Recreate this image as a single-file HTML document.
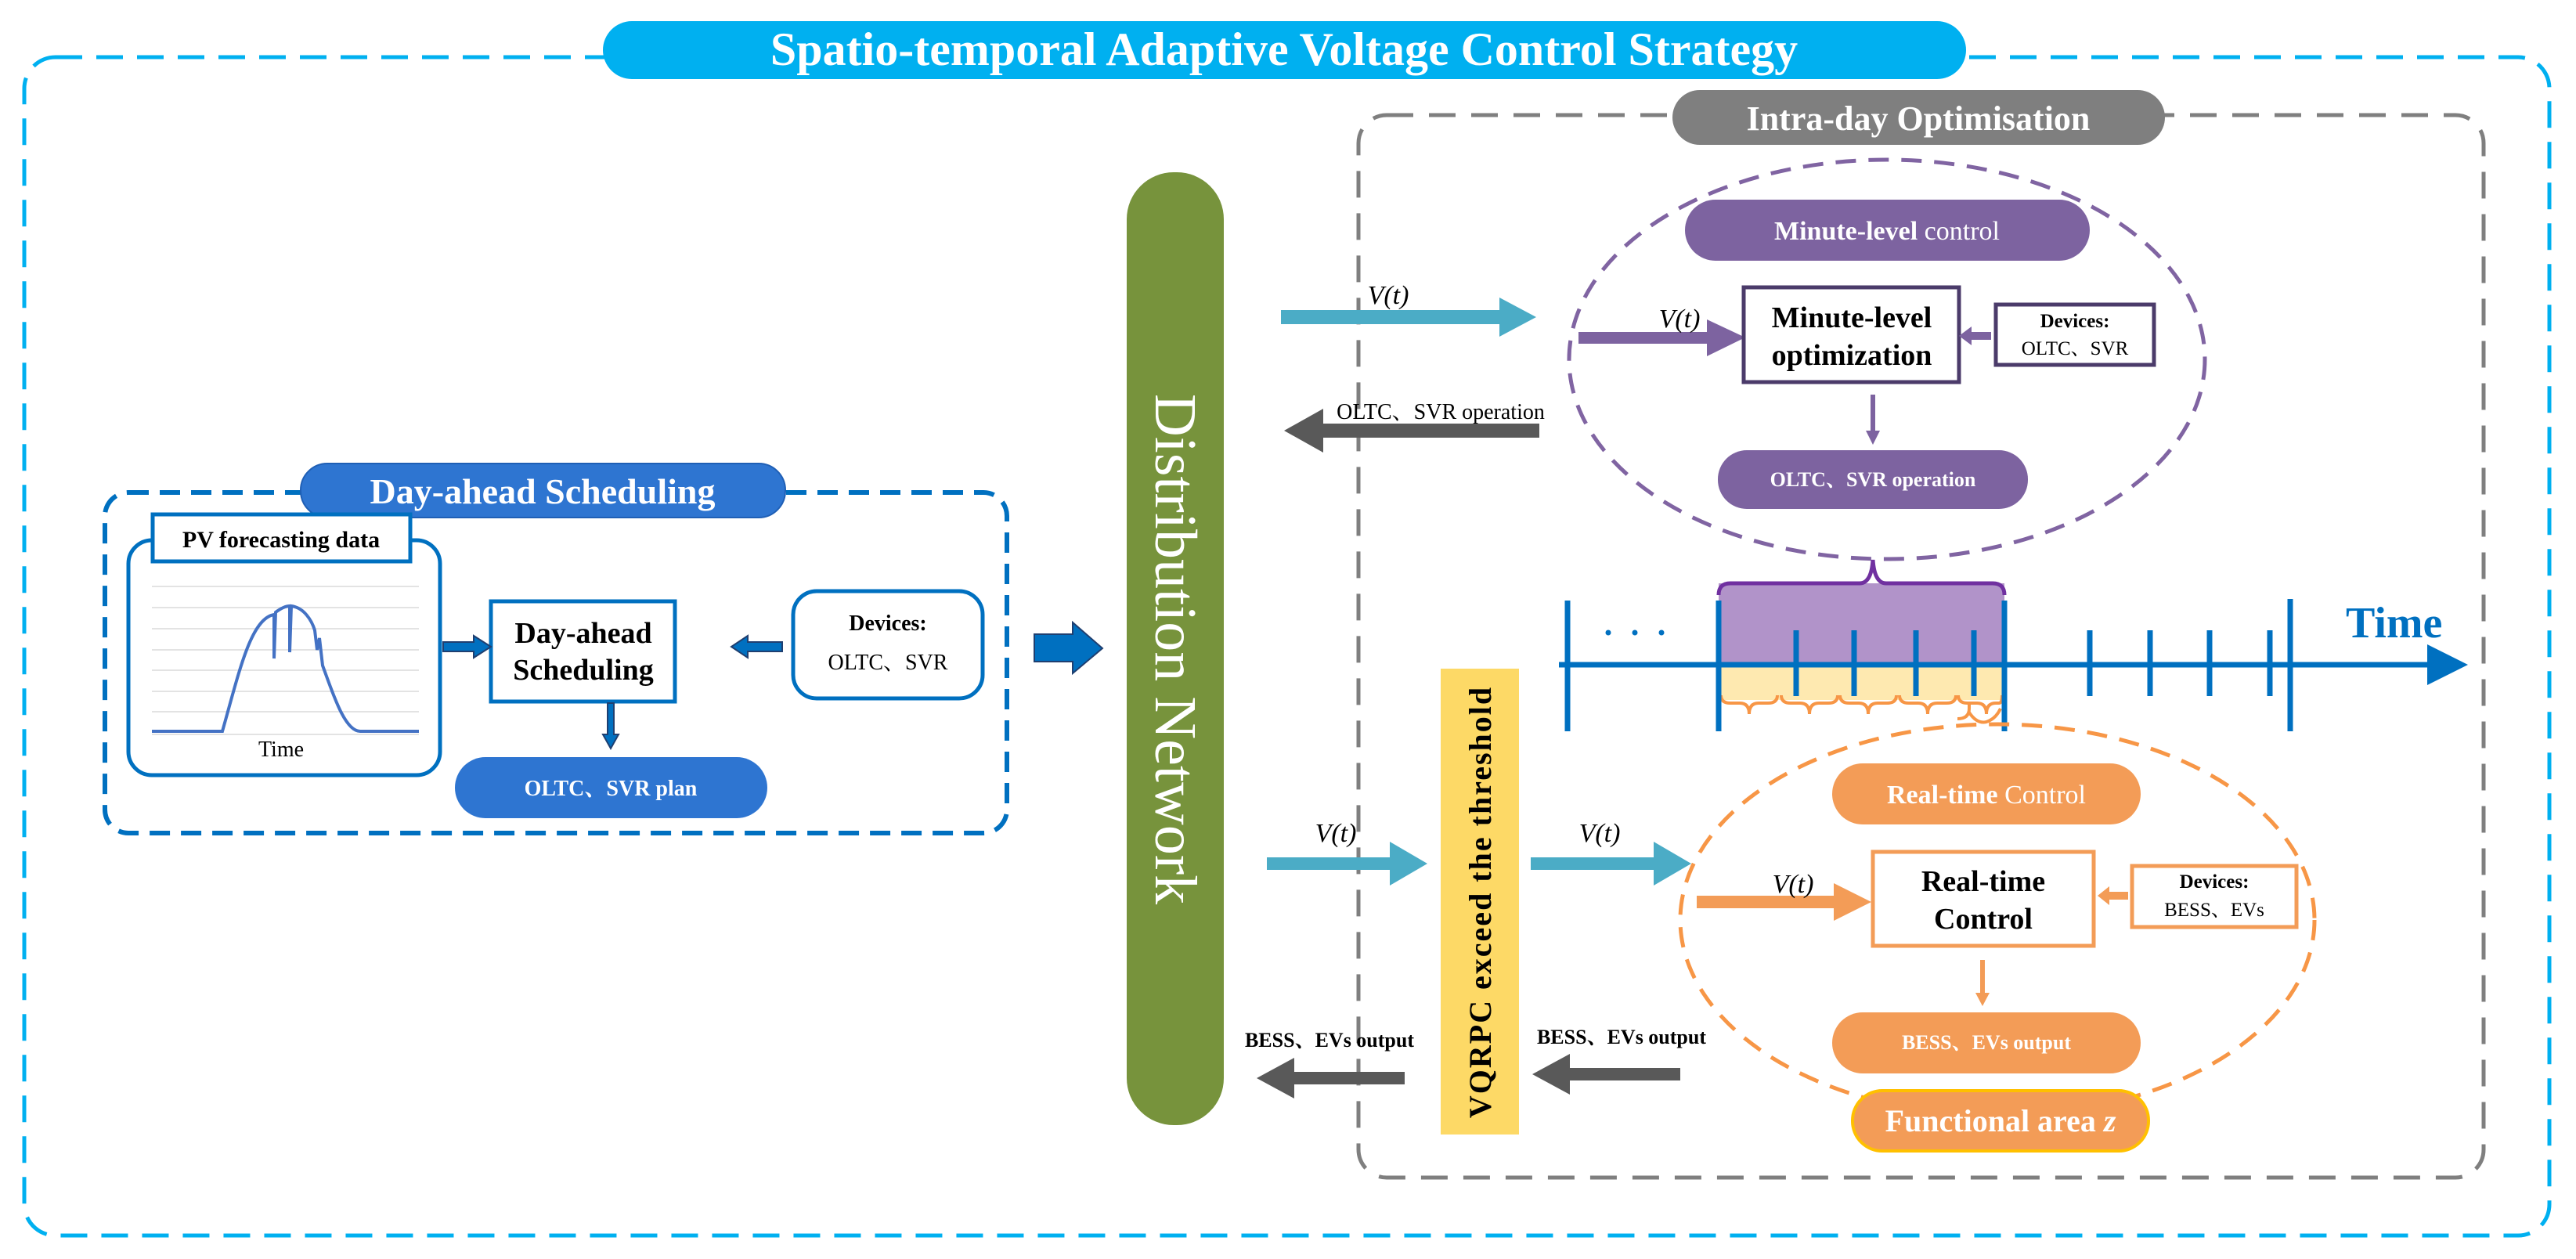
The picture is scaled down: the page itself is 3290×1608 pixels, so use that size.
<!DOCTYPE html>
<html><head><meta charset="utf-8"><style>
html,body{margin:0;padding:0;background:#fff}
svg{display:block}
text{font-family:"Liberation Serif","Noto Serif CJK SC",serif}
</style></head><body>
<svg width="3290" height="1608" viewBox="0 0 3290 1608" xmlns="http://www.w3.org/2000/svg">
<!-- outer dashed -->
<rect x="31" y="73" width="3225" height="1505" rx="40" fill="none" stroke="#00b0f0" stroke-width="5" stroke-dasharray="34 18"/>
<rect x="770" y="27" width="1741" height="74" rx="37" fill="#00b0f0"/>
<text x="1640" y="83" font-size="60" font-weight="bold" fill="#fff" text-anchor="middle">Spatio-temporal Adaptive Voltage Control Strategy</text>

<!-- intra-day box -->
<rect x="1735" y="147" width="1437" height="1357" rx="36" fill="none" stroke="#7f7f7f" stroke-width="5" stroke-dasharray="34 20"/>
<rect x="2136" y="115" width="629" height="70" rx="35" fill="#7f7f7f"/>
<text x="2450" y="166" font-size="44" font-weight="bold" fill="#fff" text-anchor="middle">Intra-day Optimisation</text>

<!-- Distribution network -->
<rect x="1439" y="220" width="124" height="1217" rx="60" fill="#77933c"/>
<text transform="translate(1476,829) rotate(90)" font-size="76" fill="#fff" text-anchor="middle">Distribution Network</text>

<!-- Day-ahead -->
<rect x="134" y="629" width="1152" height="435" rx="30" fill="none" stroke="#0070c0" stroke-width="6" stroke-dasharray="26 14"/>
<rect x="384" y="592" width="619" height="69" rx="34" fill="#2e75d1" stroke="#1f5fb5" stroke-width="2"/>
<text x="693" y="643" font-size="46" font-weight="bold" fill="#fff" text-anchor="middle">Day-ahead Scheduling</text>
<rect x="164" y="690" width="398" height="300" rx="30" fill="#fff" stroke="#0070c0" stroke-width="5"/>
<rect x="195" y="657" width="329" height="60" fill="#fff" stroke="#0070c0" stroke-width="5"/>
<text x="359" y="699" font-size="30" font-weight="bold" fill="#000" text-anchor="middle">PV  forecasting data</text>
<g stroke="#e3e3e3" stroke-width="2">
<line x1="194" y1="749" x2="535" y2="749"/><line x1="194" y1="776" x2="535" y2="776"/><line x1="194" y1="803" x2="535" y2="803"/><line x1="194" y1="830" x2="535" y2="830"/><line x1="194" y1="856" x2="535" y2="856"/><line x1="194" y1="883" x2="535" y2="883"/><line x1="194" y1="909" x2="535" y2="909"/><line x1="194" y1="938" x2="535" y2="938"/>
</g>
<path d="M194 934 L284 934 C305 860 320 790 350 785 L350 841 L352 782 C360 776 366 774 370 774 L370 833 L372 774 C388 776 398 792 402 805 L405 830 L408 815 L412 850 C425 885 440 934 460 934 L535 934" fill="none" stroke="#4472c4" stroke-width="4"/>
<text x="359" y="966" font-size="28" fill="#000" text-anchor="middle">Time</text>
<rect x="627" y="768" width="235" height="128" fill="#fff" stroke="#0070c0" stroke-width="5"/>
<text x="745" y="821" font-size="38" font-weight="bold" text-anchor="middle">Day-ahead</text>
<text x="745" y="868" font-size="38" font-weight="bold" text-anchor="middle">Scheduling</text>
<rect x="1013" y="755" width="242" height="137" rx="30" fill="#fff" stroke="#0070c0" stroke-width="5"/>
<text x="1134" y="805" font-size="28" font-weight="bold" text-anchor="middle">Devices:</text>
<text x="1134" y="855" font-size="28" text-anchor="middle">OLTC、SVR</text>
<rect x="581" y="967" width="399" height="78" rx="39" fill="#2e75d1"/>
<text x="780" y="1016" font-size="28" font-weight="bold" fill="#fff" text-anchor="middle">OLTC、SVR plan</text>
<path d="M566 820 H605 V812 L627 826 L605 840 V832 H566 Z" fill="#0070c0" stroke="#1f3f70" stroke-width="2"/>
<path d="M999 820 H955 V812 L934 826 L955 840 V832 H999 Z" fill="#0070c0" stroke="#1f3f70" stroke-width="2"/>
<path d="M776 898 H784 V938 H790 L780 956 L770 938 H776 Z" fill="#0070c0" stroke="#1f3f70" stroke-width="2"/>
<path d="M1321 810 H1370 V795 L1408 828 L1370 860 V845 H1321 Z" fill="#0070c0" stroke="#1f3f70" stroke-width="2"/>

<!-- top teal & gray arrows -->
<path d="M1636 396 H1915 V380 L1962 405 L1915 430 V414 H1636 Z" fill="#4bacc6"/>
<text x="1773" y="388" font-size="34" font-style="italic" text-anchor="middle">V(t)</text>
<path d="M1966 541 H1690 V522 L1640 550 L1690 578 V559 H1966 Z" fill="#595959"/>
<text x="1840" y="535" font-size="28" text-anchor="middle">OLTC、SVR operation</text>

<!-- Minute ellipse -->
<ellipse cx="2410" cy="459" rx="406" ry="255" fill="none" stroke="#8064a2" stroke-width="5" stroke-dasharray="26 16"/>
<rect x="2152" y="255" width="517" height="78" rx="39" fill="#7d63a0"/>
<text x="2410" y="306" font-size="34" fill="#fff" text-anchor="middle"><tspan font-weight="bold">Minute-level</tspan> control</text>
<path d="M2016 424 H2180 V408 L2229 431 L2180 455 V439 H2016 Z" fill="#7d63a0"/>
<text x="2145" y="418" font-size="34" font-style="italic" text-anchor="middle">V(t)</text>
<rect x="2227" y="367" width="275" height="121" fill="#fff" stroke="#4b3b6a" stroke-width="5"/>
<text x="2365" y="418" font-size="38" font-weight="bold" text-anchor="middle">Minute-level</text>
<text x="2365" y="466" font-size="38" font-weight="bold" text-anchor="middle">optimization</text>
<rect x="2549" y="389" width="202" height="77" fill="#fff" stroke="#4b3b6a" stroke-width="5"/>
<text x="2650" y="418" font-size="25" font-weight="bold" text-anchor="middle">Devices:</text>
<text x="2650" y="453" font-size="25" text-anchor="middle">OLTC、SVR</text>
<path d="M2543 424 H2518 V417 L2502 429 L2518 441 V434 H2543 Z" fill="#7d63a0"/>
<path d="M2389 504 H2395 V550 H2401 L2392 568 L2383 550 H2389 Z" fill="#7d63a0"/>
<rect x="2194" y="575" width="396" height="75" rx="37" fill="#7d63a0"/>
<text x="2392" y="621" font-size="26" font-weight="bold" fill="#fff" text-anchor="middle">OLTC、SVR operation</text>

<!-- timeline -->
<rect x="2195" y="745" width="365" height="104" fill="#b193c9"/>
<rect x="2195" y="849" width="365" height="45" fill="#fee9b0"/>
<path d="M2195 760 Q2195 745 2210 745 L2375 745 Q2390 745 2392 715 Q2394 745 2409 745 L2545 745 Q2560 745 2560 760" fill="none" stroke="#7030a0" stroke-width="5"/>
<g fill="none" stroke="#f79646" stroke-width="4">
<path d="M2198 888 Q2198 898 2210 898 L2222 898 Q2234 898 2234 912 Q2234 898 2246 898 L2258 898 Q2270 898 2270 888"/>
<path d="M2275 888 Q2275 898 2287 898 L2299 898 Q2311 898 2311 912 Q2311 898 2323 898 L2335 898 Q2347 898 2347 888"/>
<path d="M2350 888 Q2350 898 2362 898 L2374 898 Q2386 898 2386 912 Q2386 898 2398 898 L2410 898 Q2422 898 2422 888"/>
<path d="M2426 888 Q2426 898 2438 898 L2450 898 Q2462 898 2462 912 Q2462 898 2474 898 L2486 898 Q2498 898 2498 888"/>
<path d="M2501 888 Q2501 898 2513 898 L2525 898 Q2537 898 2537 912 Q2537 898 2549 898 L2553 898 Q2557 898 2557 888"/>
<path d="M2500 918 Q2515 918 2515 905 L2515 900 M2515 910 Q2525 925 2537 922 Q2549 918 2555 905"/>
</g>
<g stroke="#0070c0" stroke-width="7">
<line x1="1991" y1="849" x2="3110" y2="849"/>
<line x1="2002" y1="767" x2="2002" y2="934"/><line x1="2195" y1="767" x2="2195" y2="934"/><line x1="2560" y1="767" x2="2560" y2="934"/><line x1="2925" y1="765" x2="2925" y2="934"/>
<line x1="2294" y1="805" x2="2294" y2="889"/><line x1="2368" y1="805" x2="2368" y2="889"/><line x1="2447" y1="805" x2="2447" y2="889"/><line x1="2521" y1="805" x2="2521" y2="889"/>
<line x1="2669" y1="805" x2="2669" y2="889"/><line x1="2746" y1="805" x2="2746" y2="889"/><line x1="2822" y1="805" x2="2822" y2="889"/><line x1="2899" y1="805" x2="2899" y2="889"/>
</g>
<path d="M3100 823 L3152 849 L3100 875 Z" fill="#0070c0"/>
<g fill="#0070c0"><circle cx="2054" cy="808" r="3.5"/><circle cx="2088" cy="808" r="3.5"/><circle cx="2122" cy="808" r="3.5"/></g>
<text x="2996" y="814" font-size="56" font-weight="bold" fill="#0070c0">Time</text>

<!-- VQRPC -->
<rect x="1840" y="854" width="100" height="595" fill="#fdd966"/>
<text transform="translate(1904,1152) rotate(-90)" font-size="40" font-weight="bold" text-anchor="middle" letter-spacing="2">VQRPC exceed the threshold</text>

<!-- lower arrows -->
<path d="M1618 1095 H1775 V1075 L1823 1103 L1775 1131 V1111 H1618 Z" fill="#4bacc6"/>
<text x="1706" y="1075" font-size="34" font-style="italic" text-anchor="middle">V(t)</text>
<path d="M1955 1095 H2112 V1075 L2160 1103 L2112 1131 V1111 H1955 Z" fill="#4bacc6"/>
<text x="2043" y="1075" font-size="34" font-style="italic" text-anchor="middle">V(t)</text>
<path d="M1794 1369 H1653 V1351 L1605 1377 L1653 1403 V1385 H1794 Z" fill="#595959"/>
<text x="1698" y="1337" font-size="26" font-weight="bold" text-anchor="middle">BESS、EVs output</text>
<path d="M2146 1364 H2005 V1346 L1957 1372 L2005 1398 V1380 H2146 Z" fill="#595959"/>
<text x="2071" y="1333" font-size="26" font-weight="bold" text-anchor="middle">BESS、EVs output</text>

<!-- Real-time ellipse -->
<ellipse cx="2551" cy="1175" rx="405" ry="250" fill="none" stroke="#f79646" stroke-width="5" stroke-dasharray="26 16"/>
<rect x="2340" y="975" width="394" height="78" rx="39" fill="#f39c57"/>
<text x="2537" y="1026" font-size="34" fill="#fff" text-anchor="middle"><tspan font-weight="bold">Real-time</tspan> Control</text>
<path d="M2167 1144 H2342 V1128 L2390 1152 L2342 1176 V1160 H2167 Z" fill="#f39c57"/>
<text x="2290" y="1140" font-size="34" font-style="italic" text-anchor="middle">V(t)</text>
<rect x="2392" y="1088" width="282" height="120" fill="#fff" stroke="#f39c57" stroke-width="5"/>
<text x="2533" y="1138" font-size="38" font-weight="bold" text-anchor="middle">Real-time</text>
<text x="2533" y="1186" font-size="38" font-weight="bold" text-anchor="middle">Control</text>
<rect x="2723" y="1106" width="210" height="78" fill="#fff" stroke="#f39c57" stroke-width="5"/>
<text x="2828" y="1134" font-size="25" font-weight="bold" text-anchor="middle">Devices:</text>
<text x="2828" y="1170" font-size="25" text-anchor="middle">BESS、EVs</text>
<path d="M2718 1139 H2694 V1132 L2679 1144 L2694 1156 V1149 H2718 Z" fill="#f39c57"/>
<path d="M2529 1226 H2535 V1268 H2541 L2532 1285 L2523 1268 H2529 Z" fill="#f39c57"/>
<rect x="2340" y="1293" width="394" height="78" rx="39" fill="#f39c57"/>
<text x="2537" y="1340" font-size="26" font-weight="bold" fill="#fff" text-anchor="middle">BESS、EVs output</text>
<rect x="2366" y="1393" width="378" height="77" rx="38" fill="#f39c57" stroke="#ffc000" stroke-width="4"/>
<text x="2555" y="1445" font-size="40" font-weight="bold" fill="#fff" text-anchor="middle">Functional area <tspan font-style="italic">z</tspan></text>
</svg>
</body></html>
